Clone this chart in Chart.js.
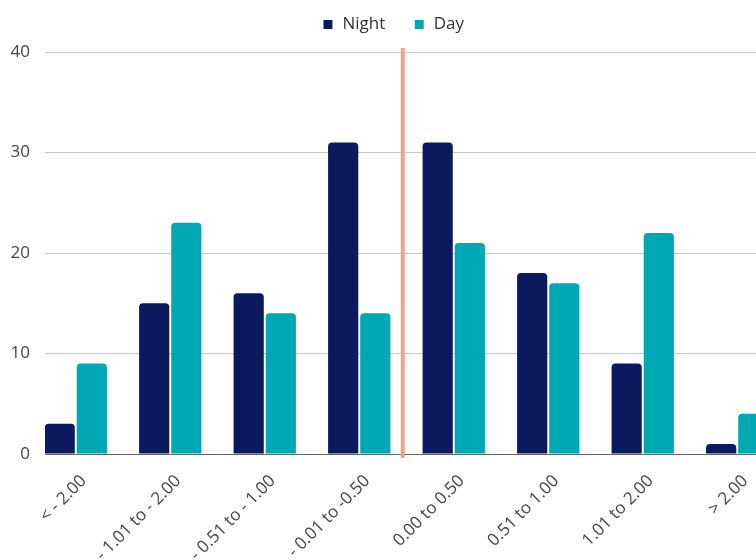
<!DOCTYPE html>
<html>
<head>
<meta charset="utf-8">
<script src="https://cdn.jsdelivr.net/npm/chart.js@4"></script>
<style>
  html, body { margin: 0; padding: 0; background: #fff; }
  #wrap { width: 756px; height: 560px; overflow: hidden; position: relative; }
  #box { position: absolute; left: 0; top: -12px; width: 786px; height: 640px; }
</style>
</head>
<body>
<div id="wrap"><div id="box"><canvas id="c" width="786" height="640"></canvas></div></div>
<script>
// Difference bins and the number of cases falling in each, night vs day
const categories = ['< - 2.00', '- 1.01 to - 2.00', '- 0.51 to - 1.00', '- 0.01 to -0.50',
                    '0.00 to 0.50', '0.51 to 1.00', '1.01 to 2.00', '> 2.00'];
const nightValues = [3, 15, 16, 31, 31, 18, 9, 1];
const dayValues = [9, 23, 14, 14, 21, 17, 22, 4];
const yTickStep = 10;
const yMax = 40;
// Vertical marker separating negative and positive bins (x position on the bin index axis)
const dividerAt = 3.46;

const NIGHT = '#0b1a5e';
const DAY = '#00a8b4';
const FONT = "'Open Sans', 'Noto Sans', sans-serif";

// Fix the legend block height so the plot starts where intended
const legendHeight = {
  id: 'legendHeight',
  beforeLayout(chart) {
    const lg = chart.legend;
    if (lg && !lg._fixedFit) {
      const fit = lg.fit;
      lg.fit = function () { fit.call(this); this.height = 64; };
      lg._fixedFit = true;
    }
  }
};

new Chart(document.getElementById('c'), {
  type: 'bar',
  data: {
    datasets: [
      {
        label: 'Night',
        data: nightValues.map((v, i) => ({ x: i, y: v })),
        backgroundColor: NIGHT,
        borderRadius: 4,
        borderSkipped: 'start',
        categoryPercentage: 0.68,
        barPercentage: 0.94,
        order: 2
      },
      {
        label: 'Day',
        data: dayValues.map((v, i) => ({ x: i, y: v })),
        backgroundColor: DAY,
        borderRadius: 4,
        borderSkipped: 'start',
        categoryPercentage: 0.68,
        barPercentage: 0.94,
        order: 2
      },
      {
        type: 'line',
        label: 'divider',
        data: [{ x: dividerAt, y: -0.4 }, { x: dividerAt, y: yMax + 0.4 }],
        borderColor: '#f4a089',
        borderWidth: 4,
        pointRadius: 0,
        borderCapStyle: 'butt',
        clip: false,
        order: 0
      }
    ]
  },
  options: {
    responsive: false,
    animation: false,
    devicePixelRatio: 1,
    layout: { padding: 0 },
    plugins: {
      tooltip: { enabled: false },
      legend: {
        position: 'top',
        align: 'center',
        labels: {
          usePointStyle: true,
          pointStyle: 'rect',
          boxWidth: 12,
          boxHeight: 9,
          padding: 28,
          color: '#333',
          font: { family: FONT, size: 17 },
          filter: (item) => item.text !== 'divider'
        }
      }
    },
    scales: {
      x: {
        type: 'linear',
        min: -0.3254,
        max: 7.516,
        offset: false,
        grid: { display: false, drawTicks: false },
        border: { display: true, color: '#666', width: 1 },
        afterBuildTicks(scale) {
          scale.ticks = categories.map((_, i) => ({ value: i }));
        },
        afterFit(scale) { scale.height = 174; },
        ticks: {
          autoSkip: false,
          minRotation: 45,
          maxRotation: 45,
          padding: 17,
          labelOffset: 8,
          color: '#444',
          font: { family: FONT, size: 17 },
          callback: (v) => categories[v]
        }
      },
      y: {
        min: 0,
        max: yMax,
        grid: { color: '#c8c8c8', drawTicks: false },
        border: { display: false },
        afterFit(scale) { scale.width = 45; },
        ticks: {
          stepSize: yTickStep,
          padding: 15,
          color: '#444',
          font: { family: FONT, size: 17 }
        }
      }
    }
  },
  plugins: [legendHeight]
});
</script>
</body>
</html>
